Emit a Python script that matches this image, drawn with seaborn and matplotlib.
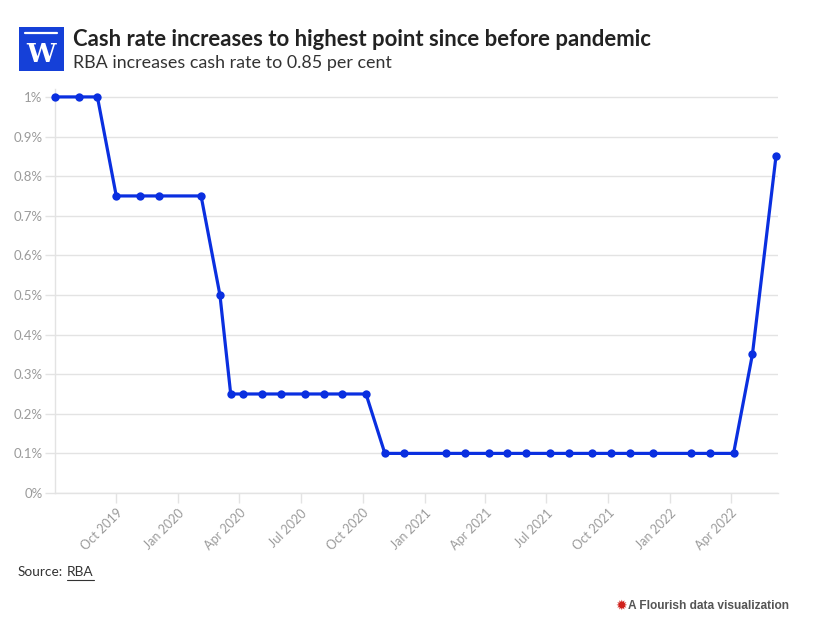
"""RBA cash rate line chart, Flourish style."""

import matplotlib.pyplot as plt
import matplotlib.dates as mdates
import pandas as pd
import seaborn as sns
from matplotlib.patches import Rectangle
from matplotlib.ticker import FuncFormatter

# RBA board meeting dates and cash rate (%)
MEETING_DATES = [
    "2019-07-02", "2019-08-06", "2019-09-03", "2019-10-01", "2019-11-05", "2019-12-03",
    "2020-02-04", "2020-03-03", "2020-03-19", "2020-04-07", "2020-05-05", "2020-06-02",
    "2020-07-07", "2020-08-04", "2020-09-01", "2020-10-06", "2020-11-03", "2020-12-01",
    "2021-02-02", "2021-03-02", "2021-04-06", "2021-05-04", "2021-06-01", "2021-07-06",
    "2021-08-03", "2021-09-07", "2021-10-05", "2021-11-02", "2021-12-07",
    "2022-02-01", "2022-03-01", "2022-04-05", "2022-05-03", "2022-06-07",
]
CASH_RATE = [
    1.00, 1.00, 1.00, 0.75, 0.75, 0.75,
    0.75, 0.50, 0.25, 0.25, 0.25, 0.25,
    0.25, 0.25, 0.25, 0.25, 0.10, 0.10,
    0.10, 0.10, 0.10, 0.10, 0.10, 0.10,
    0.10, 0.10, 0.10, 0.10, 0.10,
    0.10, 0.10, 0.10, 0.35, 0.85,
]
TICK_DATES = [
    "2019-10-01", "2020-01-01", "2020-04-01", "2020-07-01", "2020-10-01", "2021-01-01",
    "2021-04-01", "2021-07-01", "2021-10-01", "2022-01-01", "2022-04-01",
]
Y_TICKS = [0.0, 0.1, 0.2, 0.3, 0.4, 0.5, 0.6, 0.7, 0.8, 0.9, 1.0]

TITLE = "Cash rate increases to highest point since before pandemic"
SUBTITLE = "RBA increases cash rate to 0.85 per cent"

LINE_COLOR = "#0a2fe0"
GRID_COLOR = "#e3e3e3"
LABEL_COLOR = "#9a9a9a"


def pct(v, _):
    s = f"{v:.1f}".rstrip("0").rstrip(".")
    return f"{s}%"


def main():
    sns.set_theme(style="white")
    plt.rcParams["font.family"] = ["Lato", "DejaVu Sans"]

    df = pd.DataFrame({"date": pd.to_datetime(MEETING_DATES), "rate": CASH_RATE})

    W, H = 813, 620
    fig = plt.figure(figsize=(8.13, 6.2), dpi=100)
    ax = fig.add_axes([55 / W, 1 - 493 / H, 723 / W, 404 / H])

    sns.lineplot(
        data=df, x="date", y="rate", color=LINE_COLOR, linewidth=2.3,
        marker="o", markersize=6, markeredgewidth=0, ax=ax, clip_on=False, zorder=3,
    )

    ax.set_xlim(pd.Timestamp("2019-07-02"), pd.Timestamp("2022-06-10"))
    ax.set_ylim(0, 1.02)

    ax.set_yticks(Y_TICKS)
    ax.yaxis.set_major_formatter(FuncFormatter(pct))
    ax.grid(axis="y", color=GRID_COLOR, linewidth=1)
    ax.grid(axis="x", visible=False)

    ax.set_xticks(pd.to_datetime(TICK_DATES))
    ax.xaxis.set_major_formatter(mdates.DateFormatter("%b %Y"))
    for lbl in ax.get_xticklabels():
        lbl.set_rotation(45)
        lbl.set_ha("right")
        lbl.set_rotation_mode("anchor")

    ax.tick_params(axis="x", length=7, width=1, color=GRID_COLOR, labelsize=9,
                   labelcolor=LABEL_COLOR, pad=3, bottom=True)
    ax.tick_params(axis="y", length=7, width=1, color=GRID_COLOR, labelsize=9.5,
                   labelcolor=LABEL_COLOR, pad=2, left=True)

    for side in ["top", "right"]:
        ax.spines[side].set_visible(False)
    for side in ["left", "bottom"]:
        ax.spines[side].set_color(GRID_COLOR)
        ax.spines[side].set_linewidth(1)

    ax.set_xlabel("")
    ax.set_ylabel("")

    # header logo
    fig.patches.append(Rectangle((19 / W, 1 - 71 / H), 45 / W, 44 / H,
                                 transform=fig.transFigure, facecolor="#1540d8",
                                 edgecolor="none"))
    fig.add_artist(plt.Line2D([25 / W, 57 / W], [1 - 33 / H, 1 - 33 / H],
                              transform=fig.transFigure, color="white", linewidth=1.6))
    fig.text(41.5 / W, 1 - 54 / H, "W", color="white", fontsize=19,
             family="DejaVu Serif", fontweight="bold", ha="center", va="center")

    fig.text(73 / W, 1 - 40 / H, TITLE, fontsize=15.9, fontweight="bold",
             color="#222222", va="center", ha="left")
    fig.text(73 / W, 1 - 63 / H, SUBTITLE, fontsize=12.9, color="#333333",
             va="center", ha="left")

    src = fig.text(18 / W, 1 - 572 / H, "Source:", fontsize=9.8, color="#333333",
                   va="center", ha="left")
    fig.canvas.draw()
    r = fig.canvas.get_renderer()
    src_end = src.get_window_extent(r).x1
    rba_x = src_end + 4
    rba = fig.text(rba_x / W, 1 - 572 / H, "RBA", fontsize=9.8, color="#333333",
                   va="center", ha="left")
    rba_end = rba.get_window_extent(r).x1
    fig.add_artist(plt.Line2D([rba_x / W, rba_end / W], [1 - 580 / H, 1 - 580 / H],
                              transform=fig.transFigure, color="#333333", linewidth=0.8))

    flo = fig.text(789 / W, 1 - 606 / H, "A Flourish data visualization", fontsize=8.6,
                   color="#555555", fontweight="bold", family="Liberation Sans",
                   va="center", ha="right")
    flo_start = flo.get_window_extent(r).x0
    fig.text((flo_start - 7) / W, 1 - 606 / H, "✹", fontsize=10, color="#d0201b",
             family="DejaVu Sans", va="center", ha="center")

    fig.savefig("out.png", dpi=100, facecolor="white")
    plt.close(fig)


if __name__ == "__main__":
    main()
